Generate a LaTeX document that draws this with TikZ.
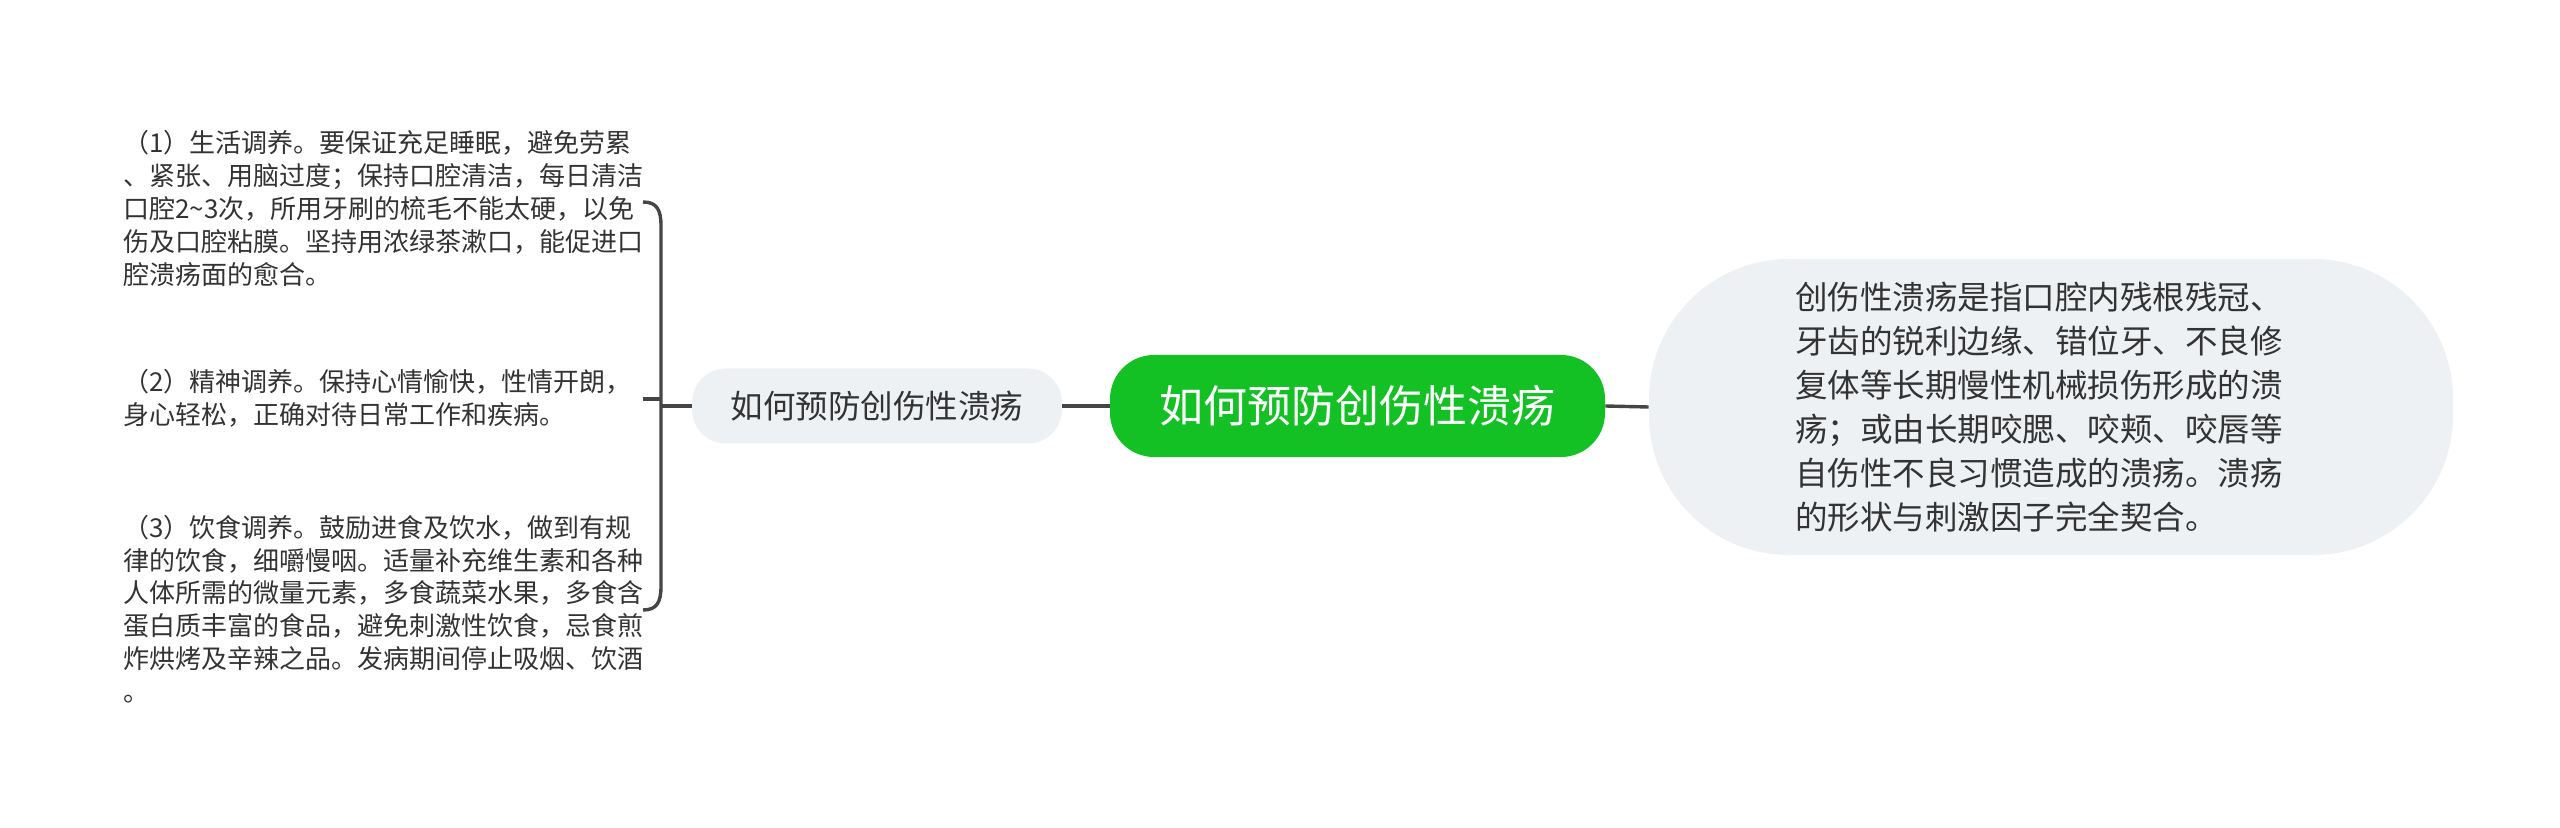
\documentclass[tikz,border=0pt]{standalone}
\usepackage{fontspec}
\setmainfont{Noto Sans CJK SC}
\definecolor{leafgrey}{HTML}{EEF1F4}
\definecolor{rootgreen}{HTML}{14C124}
\definecolor{linegrey}{HTML}{454545}
\definecolor{textgrey}{HTML}{333333}

\begin{document}
\begin{tikzpicture}[x=0.5pt,y=-0.5pt,
    conn/.style={draw=linegrey,line width=1.7pt},
    body/.style={anchor=west,inner sep=0pt,align=left,text=textgrey,
        font=\fontsize{13pt}{16.4pt}\selectfont},
    subtopic/.style={fill=leafgrey,rounded corners=17pt,inner sep=0pt,
        minimum width=185pt,minimum height=37.5pt,text=textgrey,
        font=\fontsize{16.25pt}{20pt}\selectfont},
    roottopic/.style={fill=rootgreen,rounded corners=22pt,inner sep=0pt,
        minimum width=247.5pt,minimum height=51pt,text=white,
        font=\fontsize{22pt}{26pt}\selectfont},
    detail/.style={fill=leafgrey,rounded corners=70pt,inner sep=0pt,
        minimum width=402pt,minimum height=148pt,text width=256pt,
        align=left,text=textgrey,font=\fontsize{16.25pt}{22pt}\selectfont}
]
    % Canvas
    \fill[white] (0,0) rectangle (2560,828);
    \useasboundingbox (0,0) rectangle (2560,828);

    % Central topic and its two neighbours
    \node[roottopic] (root) at (1357.5,406) {如何预防创伤性溃疡};
    \node[subtopic] (sub) at (877,406) {如何预防创伤性溃疡};
    \node[detail] (info) at (2051,407) {创伤性溃疡是指口腔内残根残冠、\\
        牙齿的锐利边缘、错位牙、不良修\\
        复体等长期慢性机械损伤形成的溃\\
        疡；或由长期咬腮、咬颊、咬唇等\\
        自伤性不良习惯造成的溃疡。溃疡\\
        的形状与刺激因子完全契合。};

    % The three measures on the left
    \node[body] (life) at (123,208.5) {（1）生活调养。要保证充足睡眠，避免劳累\\
        、紧张、用脑过度；保持口腔清洁，每日清洁\\
        口腔2\textasciitilde3次，所用牙刷的梳毛不能太硬，以免\\
        伤及口腔粘膜。坚持用浓绿茶漱口，能促进口\\
        腔溃疡面的愈合。};
    \node[body] (mind) at (123,398.5) {（2）精神调养。保持心情愉快，性情开朗，\\
        身心轻松，正确对待日常工作和疾病。};
    \node[body] (diet) at (123,609) {（3）饮食调养。鼓励进食及饮水，做到有规\\
        律的饮食，细嚼慢咽。适量补充维生素和各种\\
        人体所需的微量元素，多食蔬菜水果，多食含\\
        蛋白质丰富的食品，避免刺激性饮食，忌食煎\\
        炸烘烤及辛辣之品。发病期间停止吸烟、饮酒\\
        。};

    % Connectors between the topics
    \draw[conn] (root.west) -- (sub.east);
    \draw[conn] (root.east) -- (info.west);

    % Brace that groups the measures
    \coordinate (btop) at (643,202);
    \coordinate (bbot) at (643,610);
    \coordinate (btick) at (643,399);
    \coordinate (bmid) at (661,406);
    \draw[conn] (btop) .. controls (657,202) and (661,210) .. (661,226)
        -- (661,586) .. controls (661,602) and (657,610) .. (bbot);
    \draw[conn] (btick) -- (661,399);
    \draw[conn] (bmid) -- (sub.west);

\end{tikzpicture}
\end{document}
